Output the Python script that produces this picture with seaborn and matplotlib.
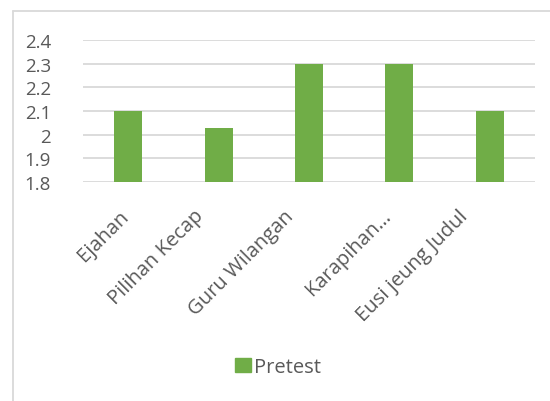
import pandas as pd
import matplotlib
matplotlib.use("Agg")
import matplotlib.pyplot as plt
import matplotlib.transforms as mtrans
import seaborn as sns
from matplotlib.lines import Line2D
from matplotlib.patches import Patch

# dados
kategori = ["Ejahan", "Pilihan Kecap", "Guru Wilangan", "Karapihan…", "Eusi jeung Judul"]
pretest = [2.1, 2.03, 2.3, 2.3, 2.1]
yticks = [1.8, 1.9, 2.0, 2.1, 2.2, 2.3, 2.4]
ytick_labels = ["1.8", "1.9", "2", "2.1", "2.2", "2.3", "2.4"]

df = pd.DataFrame({"kategori": kategori, "nilai": pretest})

sns.set_style("white")
plt.rcParams["font.family"] = ["Open Sans", "DejaVu Sans"]

hijau = "#70AD47"
abu = "#595959"

fig = plt.figure(figsize=(5.5, 4.02), dpi=100)
ax = fig.add_axes([83 / 550, 1 - 183 / 402, 452 / 550, 142 / 402])

sns.barplot(data=df, x="kategori", y="nilai", color=hijau, width=0.31,
            saturation=1, linewidth=0, ax=ax, zorder=3)

ax.set_ylim(1.8, 2.4)
ax.set_yticks(yticks)
ax.set_yticklabels(ytick_labels)
ax.set_xlim(-0.5, len(kategori) - 0.5)
ax.grid(axis="y", color="#D9D9D9", linewidth=1.3, zorder=0)
ax.set_axisbelow(True)
for s in ax.spines.values():
    s.set_visible(False)
ax.set_xlabel("")
ax.set_ylabel("")
ax.tick_params(axis="y", length=0, pad=23, labelsize=13.5, labelcolor=abu)
ax.tick_params(axis="x", length=0, pad=17, labelsize=14.5, labelcolor=abu)
plt.setp(ax.get_xticklabels(), rotation=45, ha="right", rotation_mode="anchor")

# rotulos longos ficam um pouco mais a esquerda (como no Excel)
for lbl in ax.get_xticklabels():
    dx = -(len(lbl.get_text()) - 6) * 2.2 - 10
    lbl.set_transform(lbl.get_transform() +
                      mtrans.ScaledTranslation(dx / 100, 0, fig.dpi_scale_trans))

# legenda
ax.legend(handles=[Patch(color=hijau, label="Pretest")], loc="center",
          bbox_to_anchor=(278 / 550, 1 - 368 / 402), bbox_transform=fig.transFigure,
          frameon=False, fontsize=14.5, handlelength=0.75, handleheight=0.75,
          handletextpad=0.15, labelcolor=abu)

# borda do grafico
fig.add_artist(Line2D([13 / 550, 13 / 550], [0, 1 - 12 / 402], color="#D9D9D9", lw=1.3))
fig.add_artist(Line2D([13 / 550, 1], [1 - 12 / 402, 1 - 12 / 402], color="#D9D9D9", lw=1.3))

fig.savefig("out.png", dpi=100)
plt.close(fig)
